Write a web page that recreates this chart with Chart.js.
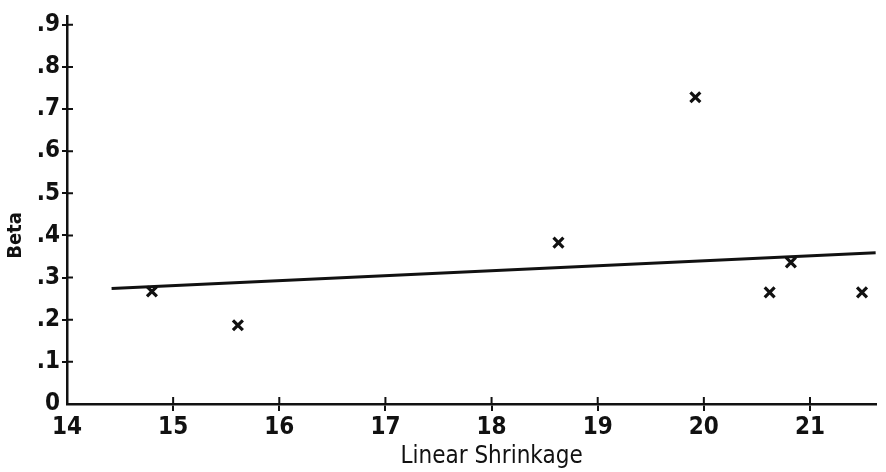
<!DOCTYPE html>
<html>
<head>
<meta charset="utf-8">
<script src="https://cdn.jsdelivr.net/npm/chart.js@4"></script>
<style>
  html, body { margin: 0; padding: 0; background: #fff; }
  #wrap { width: 886px; height: 472px; }
</style>
</head>
<body>
<div id="wrap"><canvas id="beta-chart" width="886" height="472"></canvas></div>
<script>
// values
const shrinkage = [14.80, 15.61, 18.63, 19.92, 20.62, 20.82, 21.49];
const beta = [0.267, 0.187, 0.383, 0.728, 0.265, 0.336, 0.265];
// fitted line end points
const fitX = [14.42, 21.62];
const fitY = [0.274, 0.359];
const xTicks = [14, 15, 16, 17, 18, 19, 20, 21];
const yTicks = [0, 0.1, 0.2, 0.3, 0.4, 0.5, 0.6, 0.7, 0.8, 0.9];
const yTickLabels = ['0', '.1', '.2', '.3', '.4', '.5', '.6', '.7', '.8', '.9'];

const FONT = '"DejaVu Sans Condensed", "Liberation Sans Narrow", "DejaVu Sans", sans-serif';
const INK = '#111';

// inner half of each tick so the marks cross the axis, plus both axis titles
const crossTicks = {
    id: 'crossTicks',
    afterDraw(chart) {
        const { ctx, chartArea, scales } = chart;
        ctx.save();
        ctx.strokeStyle = INK;
        ctx.lineWidth = 2;
        ctx.beginPath();
        scales.y.ticks.forEach(t => {
            if (t.value === 0) return;
            const py = scales.y.getPixelForValue(t.value);
            ctx.moveTo(chartArea.left, py);
            ctx.lineTo(chartArea.left + 6, py);
        });
        scales.x.ticks.forEach(t => {
            if (t.value === 14) return;
            const px = scales.x.getPixelForValue(t.value);
            ctx.moveTo(px, chartArea.bottom);
            ctx.lineTo(px, chartArea.bottom - 7);
        });
        ctx.stroke();

        ctx.fillStyle = INK;
        ctx.textAlign = 'center';
        ctx.textBaseline = 'middle';

        // x title sits a bit right of the middle in the original
        ctx.font = '24px ' + FONT;
        ctx.fillText('Linear Shrinkage', scales.x.getPixelForValue(18), 457);

        // "Beta" sits a little below the middle of the axis
        ctx.translate(16, scales.y.getPixelForValue(0.4));
        ctx.rotate(-Math.PI / 2);
        ctx.font = 'bold 20px ' + FONT;
        ctx.fillText('Beta', 0, 0);
        ctx.restore();
    }
};

new Chart(document.getElementById('beta-chart'), {
    type: 'scatter',
    data: {
        datasets: [{
            label: 'Beta',
            data: shrinkage.map((x, i) => ({ x: x, y: beta[i] })),
            pointStyle: 'crossRot',
            pointRadius: 7,
            pointBorderWidth: 3.2,
            borderColor: INK,
            backgroundColor: INK,
            showLine: false
        }, {
            type: 'line',
            label: 'Fit',
            data: fitX.map((x, i) => ({ x: x, y: fitY[i] })),
            borderColor: INK,
            borderWidth: 3,
            pointRadius: 0,
            fill: false
        }]
    },
    options: {
        responsive: false,
        animation: false,
        layout: { padding: { top: 15, right: 6, left: 0, bottom: 0 } },
        plugins: {
            legend: { display: false },
            tooltip: { enabled: false }
        },
        scales: {
            x: {
                type: 'linear',
                min: 14,
                max: 21.62,
                afterBuildTicks: s => { s.ticks = xTicks.map(v => ({ value: v })); },
                afterFit: s => { s.height = 68; },
                border: { color: INK, width: 2.5 },
                grid: {
                    drawOnChartArea: false,
                    tickLength: 7,
                    lineWidth: 2,
                    color: c => (c.tick && c.tick.value === 14) ? 'rgba(0,0,0,0)' : INK
                },
                ticks: {
                    color: INK,
                    padding: 2,
                    maxRotation: 0,
                    font: { family: FONT, size: 24, weight: 'bold' }
                },
                title: { display: false }
            },
            y: {
                type: 'linear',
                min: 0,
                max: 0.92,
                afterBuildTicks: s => { s.ticks = yTicks.map(v => ({ value: v })); },
                afterFit: s => { s.width = 67; },
                border: { color: INK, width: 2.5 },
                grid: {
                    drawOnChartArea: false,
                    tickLength: 5,
                    lineWidth: 2,
                    color: c => (c.tick && c.tick.value === 0) ? 'rgba(0,0,0,0)' : INK
                },
                ticks: {
                    color: INK,
                    padding: 2,
                    font: { family: FONT, size: 24, weight: 'bold' },
                    callback: v => yTickLabels[yTicks.indexOf(Math.round(v * 10) / 10)]
                },
                title: { display: false }
            }
        }
    },
    plugins: [crossTicks]
});
</script>
</body>
</html>
